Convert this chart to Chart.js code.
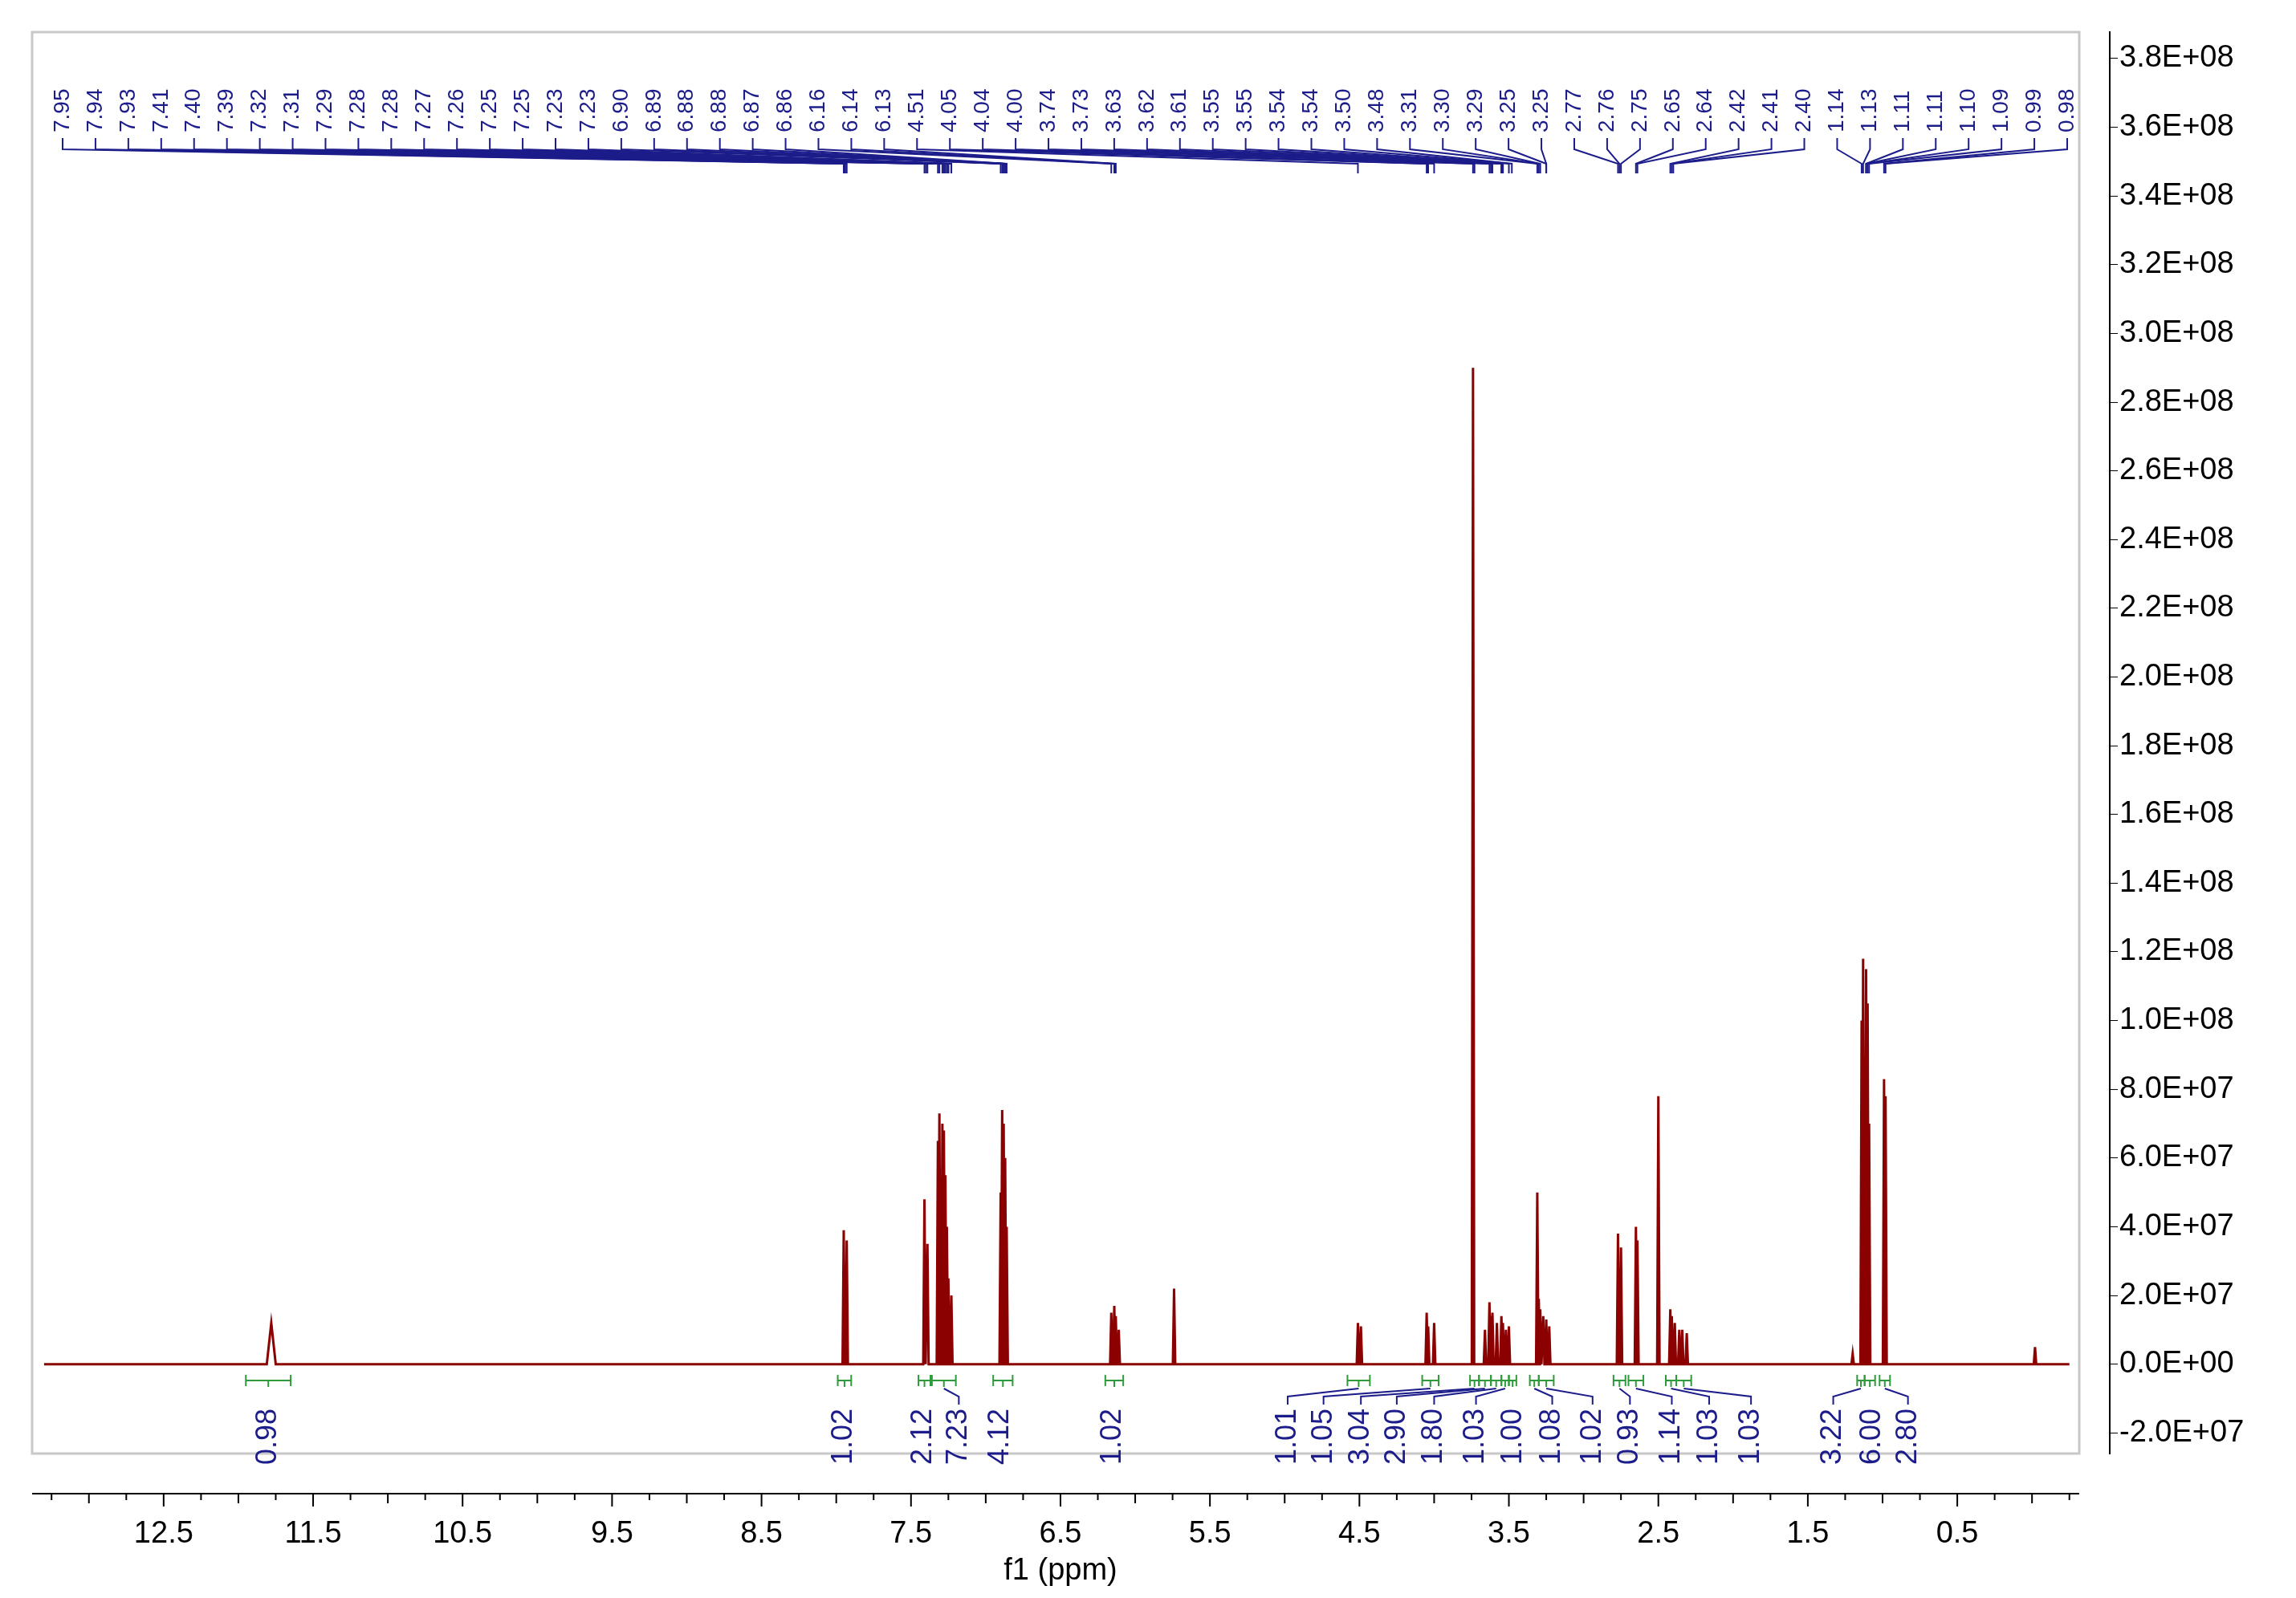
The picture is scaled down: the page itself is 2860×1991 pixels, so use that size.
<!DOCTYPE html>
<html>
<head>
<meta charset="utf-8">
<script src="https://cdn.jsdelivr.net/npm/chart.js@4"></script>
<style>
  body { margin: 0; background: #fff; }
  canvas { display: block; }
</style>
</head>
<body>
<canvas id="nmr" width="2860" height="1991"></canvas>
<script>
// peak list (ppm, intensity, half width in ppm)
const peakPpm = [11.78, 7.95, 7.93, 7.41, 7.39, 7.32, 7.31, 7.29, 7.28, 7.27, 7.26, 7.25, 7.23,
  6.90, 6.89, 6.88, 6.87, 6.86, 6.16, 6.14, 6.13, 6.11, 5.74, 4.51, 4.49, 4.05, 4.04, 4.00, 3.74,
  3.66, 3.63, 3.62, 3.61, 3.58, 3.55, 3.54, 3.52, 3.50, 3.31, 3.30, 3.29, 3.27, 3.25, 3.23,
  2.77, 2.75, 2.65, 2.64, 2.50, 2.42, 2.41, 2.39, 2.36, 2.34, 2.31,
  1.20, 1.14, 1.13, 1.11, 1.10, 1.09, 0.99, 0.98, -0.02];
const peakHeight = [1.2e7, 3.9e7, 3.6e7, 4.8e7, 3.5e7, 6.5e7, 7.3e7, 7.0e7, 6.8e7, 5.5e7, 4.0e7, 2.5e7, 2.0e7,
  5.0e7, 7.4e7, 7.0e7, 6.0e7, 4.0e7, 1.5e7, 1.7e7, 1.4e7, 1.0e7, 2.2e7, 1.2e7, 1.1e7, 1.5e7, 1.1e7, 1.2e7, 2.9e8,
  1.0e7, 1.8e7, 1.4e7, 1.5e7, 1.2e7, 1.4e7, 1.2e7, 1.0e7, 1.1e7, 5.0e7, 1.9e7, 1.6e7, 1.4e7, 1.3e7, 1.1e7,
  3.8e7, 3.4e7, 4.0e7, 3.6e7, 7.8e7, 1.6e7, 1.4e7, 1.2e7, 1.0e7, 1.0e7, 0.9e7,
  0.3e7, 10.0e7, 11.8e7, 11.5e7, 10.5e7, 7.0e7, 8.3e7, 7.8e7, 0.5e7];
const peakWidth = peakPpm.map(p => p > 11 ? 0.03 : 0.008);

// peak picking labels (top)
const peakLabels = ['7.95','7.94','7.93','7.41','7.40','7.39','7.32','7.31','7.29','7.28','7.28','7.27','7.26',
  '7.25','7.25','7.23','7.23','6.90','6.89','6.88','6.88','6.87','6.86','6.16','6.14','6.13','4.51','4.05',
  '4.04','4.00','3.74','3.73','3.63','3.62','3.61','3.55','3.55','3.54','3.54','3.50','3.48','3.31','3.30',
  '3.29','3.25','3.25','2.77','2.76','2.75','2.65','2.64','2.42','2.41','2.40','1.14','1.13','1.11','1.11',
  '1.10','1.09','0.99','0.98'];

// integrals: from, to (ppm), value
const integralFrom = [11.95, 7.99, 7.45, 7.36, 6.95, 6.20, 4.58, 4.08, 3.76, 3.70, 3.62, 3.55, 3.50, 3.36, 3.30,
  2.80, 2.70, 2.45, 2.38, 1.17, 1.12, 1.02];
const integralTo = [11.65, 7.90, 7.37, 7.20, 6.82, 6.08, 4.43, 3.97, 3.70, 3.62, 3.55, 3.50, 3.45, 3.30, 3.20,
  2.72, 2.60, 2.38, 2.28, 1.12, 1.05, 0.95];
const integralValue = ['0.98','1.02','2.12','7.23','4.12','1.02','1.01','1.05','3.04','2.90','1.80','1.03','1.00',
  '1.08','1.02','0.93','1.14','1.03','1.03','3.22','6.00','2.80'];
const integralLabelPpm = [11.80, 7.95, 7.42, 7.18, 6.90, 6.15, 4.98, 4.74, 4.49, 4.25, 4.00, 3.72, 3.47,
  3.21, 2.94, 2.69, 2.41, 2.16, 1.88, 1.33, 1.07, 0.83];

const xTicks = [12.5, 11.5, 10.5, 9.5, 8.5, 7.5, 6.5, 5.5, 4.5, 3.5, 2.5, 1.5, 0.5];

const spectrum = [{x: 13.3, y: 0}];
peakPpm.forEach((p, i) => {
  spectrum.push({x: p + peakWidth[i], y: 0}, {x: p, y: peakHeight[i]}, {x: p - peakWidth[i], y: 0});
});
spectrum.push({x: -0.25, y: 0});

const FRAME = {left: 40, top: 40, right: 2590, bottom: 1811};
const FONT = '"Liberation Sans", Arial, sans-serif';
const NAVY = '#1c1c8a';

function fmtE(v) {
  if (v === 0) return '0.0E+00';
  const e = Math.floor(Math.log10(Math.abs(v)) + 1e-9);
  const m = v / Math.pow(10, e);
  return m.toFixed(1) + 'E+' + String(e).padStart(2, '0');
}

const decor = {
  id: 'decor',
  beforeDraw(chart) {
    const c = chart.ctx;
    c.save();
    c.strokeStyle = '#c8c8c8';
    c.lineWidth = 3;
    c.strokeRect(FRAME.left, FRAME.top, FRAME.right - FRAME.left, FRAME.bottom - FRAME.top);
    c.restore();
  },
  afterDraw(chart) {
    const c = chart.ctx;
    const xs = chart.scales.x;
    const px = v => xs.getPixelForValue(v);
    c.save();

    // bottom ppm axis
    const axY = 1861;
    c.strokeStyle = '#000';
    c.lineWidth = 2;
    c.beginPath();
    c.moveTo(FRAME.left, axY); c.lineTo(FRAME.right, axY);
    for (let v = 13.25; v >= -0.25; v -= 0.25) {
      const x = px(v);
      const major = Math.abs((v - 0.5) % 1) < 1e-6;
      const half = Math.abs(v % 0.5) < 1e-6;
      c.moveTo(x, axY); c.lineTo(x, axY + (major ? 16 : half ? 12 : 8));
    }
    c.stroke();
    c.fillStyle = '#000';
    c.font = '38px ' + FONT;
    c.textAlign = 'center';
    c.textBaseline = 'middle';
    xTicks.forEach(v => c.fillText(v.toFixed(1), px(v), 1912));
    c.fillText('f1 (ppm)', px(6.5), 1958);

    // peak labels with connectors
    const n = peakLabels.length;
    const x0 = 78, x1 = 2575;
    c.font = '28px ' + FONT;
    c.lineWidth = 2;
    c.strokeStyle = NAVY;
    c.fillStyle = NAVY;
    peakLabels.forEach((t, i) => {
      const lx = x0 + (x1 - x0) * i / (n - 1);
      const tx = px(parseFloat(t));
      c.save();
      c.translate(lx, 165);
      c.rotate(-Math.PI / 2);
      c.textAlign = 'left';
      c.textBaseline = 'middle';
      c.fillText(t, 0, 0);
      c.restore();
      c.beginPath();
      c.moveTo(lx, 172); c.lineTo(lx, 186);
      c.lineTo(tx, 204); c.lineTo(tx, 216);
      c.stroke();
    });

    // integrals
    integralValue.forEach((t, i) => {
      const a = px(integralFrom[i]), b = px(integralTo[i]);
      const mid = (a + b) / 2;
      const y = 1720;
      c.strokeStyle = '#2e9b3a';
      c.lineWidth = 2;
      c.beginPath();
      c.moveTo(a, y); c.lineTo(b, y);
      c.moveTo(a, y - 7); c.lineTo(a, y + 7);
      c.moveTo(b, y - 7); c.lineTo(b, y + 7);
      c.moveTo(mid, y); c.lineTo(mid, y + 8);
      c.stroke();
      const lx = px(integralLabelPpm[i]);
      if (Math.abs(lx - mid) > 6) {
        c.strokeStyle = NAVY;
        c.beginPath();
        c.moveTo(lx, 1750); c.lineTo(lx, 1740);
        c.lineTo(mid, 1730);
        c.stroke();
      }
      c.save();
      c.translate(lx, 1790);
      c.rotate(-Math.PI / 2);
      c.fillStyle = NAVY;
      c.font = '36px ' + FONT;
      c.textAlign = 'center';
      c.textBaseline = 'middle';
      c.fillText(t, 0, 0);
      c.restore();
    });
    c.restore();
  }
};

new Chart(document.getElementById('nmr'), {
  type: 'line',
  data: {
    datasets: [{
      data: spectrum,
      borderColor: '#8b0000',
      borderWidth: 3,
      pointRadius: 0,
      tension: 0,
      fill: false
    }]
  },
  options: {
    responsive: false,
    animation: false,
    devicePixelRatio: 1,
    layout: {padding: {top: 40, left: 40, bottom: 180, right: 0}},
    plugins: {legend: {display: false}, tooltip: {enabled: false}},
    scales: {
      x: {
        type: 'linear', reverse: true, min: -0.52, max: 13.38,
        display: false
      },
      y: {
        position: 'right', min: -2.6e7, max: 3.877e8,
        afterFit(s) { s.width = 232; },
        afterBuildTicks(s) {
          const t = [];
          for (let v = -2e7; v <= 3.8e8 + 1; v += 2e7) t.push({value: v});
          s.ticks = t;
        },
        grid: {drawOnChartArea: false, tickLength: 10, color: '#000'},
        border: {color: '#000', width: 2},
        ticks: {
          color: '#000', padding: 2,
          font: {family: 'Liberation Sans', size: 38},
          callback: v => fmtE(v)
        }
      }
    }
  },
  plugins: [decor]
});
</script>
</body>
</html>
